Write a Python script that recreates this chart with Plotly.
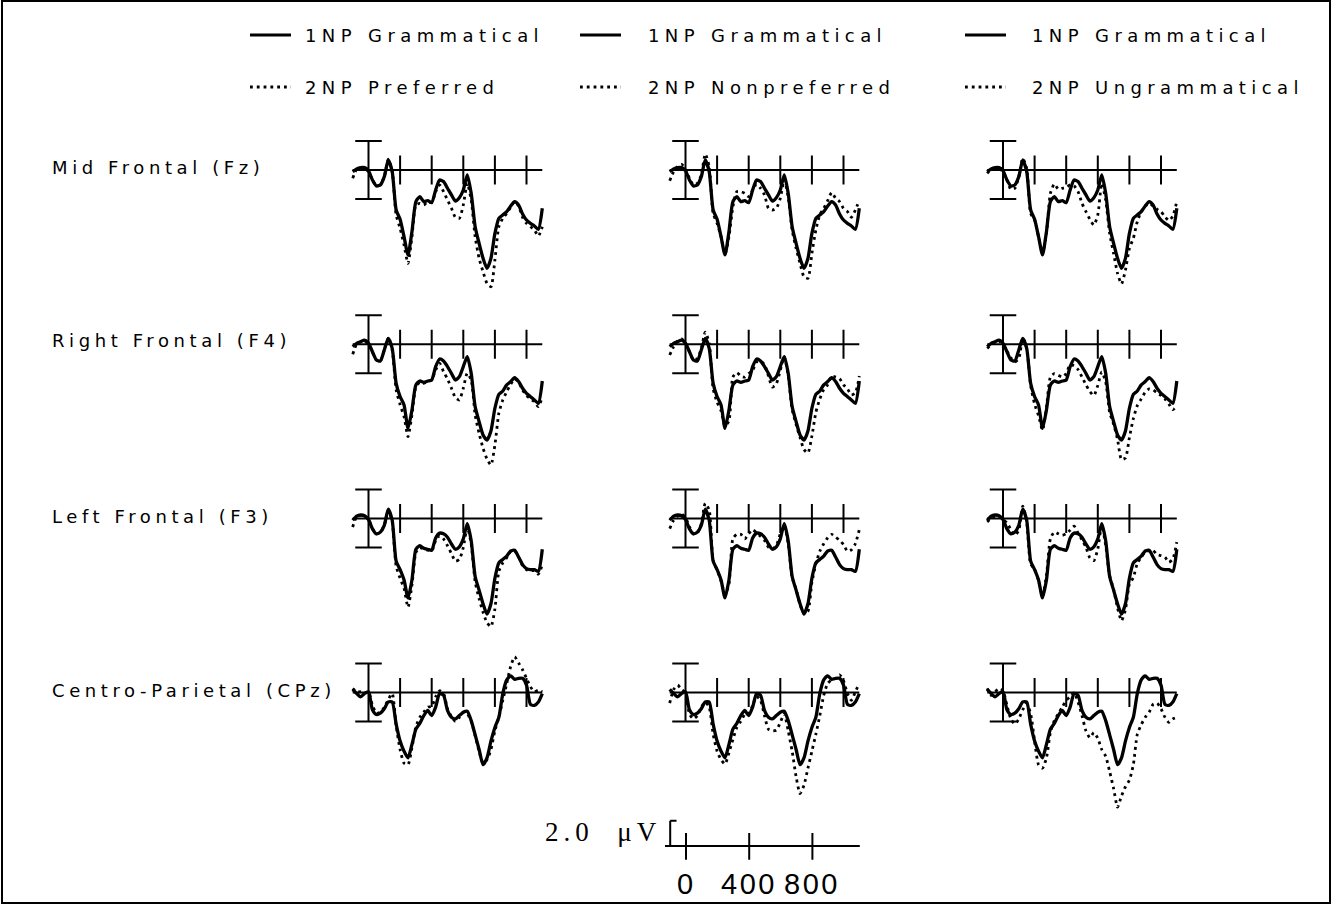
import plotly.graph_objects as go

# ---------------- data (μV, positive plotted downward) ----------------
time_ms = [-100, -75, -50, -25, 0, 25, 50, 75, 100, 125, 150, 175, 200, 225, 250, 275,
           300, 325, 350, 375, 400, 425, 450, 475, 500, 525, 550, 575, 600, 625, 650,
           675, 700, 725, 750, 775, 800, 825, 850, 875, 900, 925, 950, 975, 1000, 1025,
           1050, 1075, 1100]

electrodes = ["Mid Frontal (Fz)", "Right Frontal (F4)", "Left Frontal (F3)", "Centro-Parietal (CPz)"]
conditions_2np = ["2NP Preferred", "2NP Nonpreferred", "2NP Ungrammatical"]
label_1np = "1NP Grammatical"

fz_1np = [0.11, -0.07, -0.16, -0.16, 0.05, 0.69, 1.10, 1.03, 0.46, -0.69, 0.11, 2.76, 3.40, 4.60, 5.86, 4.25, 2.18, 1.84, 2.18, 2.11, 2.25, 1.38, 0.69, 0.80, 1.26, 1.72, 2.14, 1.91, 1.38, 0.34, 1.61, 3.91, 5.06, 6.09, 6.78, 6.09, 4.37, 3.33, 3.10, 2.87, 2.48, 2.18, 2.41, 3.03, 3.45, 3.68, 3.86, 4.09, 2.64]
f4_1np = [0.16, -0.07, -0.18, -0.28, -0.07, 0.51, 1.08, 1.15, 0.39, -0.41, 0.28, 2.69, 3.61, 4.18, 5.79, 4.53, 2.80, 2.53, 2.62, 2.53, 2.46, 1.54, 1.01, 1.15, 1.54, 2.00, 2.46, 2.23, 1.54, 0.85, 2.00, 4.30, 5.33, 6.25, 6.60, 5.98, 4.41, 3.45, 3.22, 2.80, 2.57, 2.30, 2.57, 3.03, 3.38, 3.61, 3.84, 4.07, 2.53]
f3_1np = [0.12, -0.16, -0.24, -0.19, 0.07, 0.71, 1.06, 0.94, 0.47, -0.64, 0.12, 2.94, 3.53, 4.24, 5.48, 4.24, 2.12, 1.88, 2.05, 2.12, 2.19, 1.34, 1.01, 1.06, 1.29, 1.76, 2.12, 1.95, 1.41, 0.35, 1.53, 4.00, 4.94, 5.88, 6.59, 5.88, 4.12, 3.06, 2.82, 2.59, 2.24, 2.19, 2.66, 3.18, 3.46, 3.53, 3.53, 3.65, 2.12]
cpz_1np = [-0.21, 0.07, 0.30, 0.07, -0.05, 1.19, 1.52, 1.43, 1.12, 0.65, 0.65, 2.18, 3.35, 4.05, 4.51, 3.58, 2.53, 2.13, 1.59, 1.24, 1.59, 1.01, 0.07, 0.19, 1.24, 1.71, 1.82, 1.59, 1.36, 1.29, 1.94, 2.92, 3.93, 4.98, 4.51, 3.35, 2.41, 1.71, 0.07, -0.87, -1.15, -0.91, -0.98, -0.98, -0.51, 0.82, 0.89, 0.65, 0.07]

fz_pref = [0.57, -0.05, -0.16, -0.11, 0.11, 0.69, 1.10, 0.99, 0.46, -0.74, 0.11, 3.10, 4.02, 5.17, 6.44, 4.60, 2.41, 2.30, 2.41, 2.18, 2.25, 1.49, 1.03, 1.49, 2.07, 2.64, 3.26, 3.33, 2.41, 0.92, 2.07, 4.60, 6.09, 7.01, 7.82, 8.05, 6.21, 3.91, 3.33, 2.99, 2.57, 2.18, 2.48, 3.26, 3.68, 3.91, 4.14, 4.55, 3.91]
fz_nonpref = [0.74, 0.11, -0.23, -0.39, -0.05, 0.57, 1.03, 0.92, 0.34, -1.10, -0.23, 2.99, 3.68, 4.60, 5.80, 4.60, 2.53, 1.49, 1.49, 1.61, 1.84, 1.38, 0.97, 1.26, 1.72, 2.64, 2.76, 2.64, 1.95, 0.69, 1.84, 4.14, 5.40, 6.44, 7.36, 7.47, 5.75, 4.14, 3.10, 2.64, 2.11, 1.56, 1.95, 2.18, 2.64, 2.87, 3.26, 2.76, 2.07]
fz_ungram = [0.23, -0.05, -0.11, -0.07, 0.11, 0.69, 1.33, 1.26, 0.46, -0.80, -0.11, 2.99, 3.45, 4.60, 5.75, 4.37, 1.61, 0.97, 1.33, 1.26, 1.20, 1.03, 1.10, 1.49, 2.30, 2.87, 3.40, 3.79, 3.10, 0.92, 2.07, 4.37, 5.75, 7.13, 7.86, 6.90, 5.40, 4.71, 3.56, 2.87, 2.48, 2.30, 2.48, 2.71, 2.87, 3.22, 3.49, 3.17, 2.18]

f4_pref = [0.69, 0.00, -0.18, -0.23, 0.00, 0.55, 1.08, 1.15, 0.39, -0.41, 0.39, 3.13, 4.16, 4.99, 6.37, 4.87, 2.92, 2.62, 2.69, 2.53, 2.46, 1.77, 1.31, 1.89, 2.39, 3.03, 3.68, 3.84, 3.03, 2.00, 2.46, 4.87, 6.14, 7.17, 7.91, 8.32, 6.94, 4.76, 3.84, 3.26, 2.76, 2.39, 2.62, 3.15, 3.54, 3.77, 3.95, 4.30, 3.61]
f4_nonpref = [0.74, 0.16, -0.23, -0.37, -0.07, 0.51, 1.09, 0.98, 0.28, -0.84, -0.07, 3.07, 4.00, 4.58, 5.63, 5.28, 2.26, 1.95, 2.19, 2.26, 2.02, 1.79, 1.21, 1.16, 1.40, 2.19, 2.95, 2.72, 1.79, 0.86, 2.16, 4.49, 5.53, 6.44, 7.26, 7.49, 6.33, 4.70, 3.77, 3.12, 2.79, 2.19, 2.26, 2.37, 2.79, 3.07, 3.49, 3.35, 2.19]
f4_ungram = [0.28, 0.05, -0.14, -0.23, 0.16, 0.47, 0.93, 1.21, 0.98, -0.42, 0.28, 2.84, 4.12, 4.93, 5.91, 4.35, 2.26, 2.02, 2.14, 2.26, 2.02, 1.40, 1.49, 1.74, 2.26, 2.79, 3.26, 3.53, 2.84, 1.91, 2.60, 4.70, 5.51, 6.56, 7.95, 7.84, 6.44, 5.12, 4.23, 3.77, 3.30, 3.07, 3.14, 3.35, 3.53, 3.77, 4.12, 4.51, 4.23]

f3_pref = [0.59, -0.12, -0.21, -0.16, 0.07, 0.71, 1.06, 0.94, 0.47, -0.59, 0.24, 3.29, 4.12, 4.82, 6.12, 4.59, 2.35, 2.00, 2.12, 2.19, 2.24, 1.53, 1.18, 1.41, 1.88, 2.42, 2.94, 2.82, 2.00, 0.59, 1.76, 4.35, 5.53, 6.47, 7.18, 7.46, 6.24, 3.65, 3.06, 2.71, 2.28, 2.24, 2.66, 3.24, 3.53, 3.60, 3.60, 3.84, 3.18]
f3_nonpref = [0.70, 0.12, -0.16, -0.30, -0.07, 0.58, 1.05, 1.00, 0.35, -1.05, -0.58, 2.91, 3.56, 4.30, 5.23, 4.53, 1.40, 1.09, 1.09, 1.40, 1.05, 0.77, 1.00, 1.23, 1.51, 1.98, 2.09, 1.86, 1.05, 0.47, 1.74, 4.07, 4.88, 5.93, 6.58, 6.40, 4.42, 3.14, 2.26, 1.74, 1.33, 1.09, 1.28, 1.51, 1.79, 2.26, 2.16, 1.74, 0.77]
f3_ungram = [0.23, 0.00, -0.16, -0.12, 0.07, 0.30, 0.77, 1.16, 0.81, -0.86, 0.23, 3.14, 3.49, 4.30, 5.35, 3.95, 1.40, 0.93, 1.05, 1.16, 1.05, 0.81, 0.53, 1.00, 1.47, 1.98, 2.72, 2.91, 2.09, 0.47, 1.86, 3.95, 4.88, 6.16, 7.05, 6.28, 4.53, 4.07, 3.09, 2.67, 2.33, 2.21, 2.21, 2.49, 2.56, 2.67, 3.02, 2.79, 1.63]

cpz_pref = [-0.28, -0.05, -0.05, 0.02, -0.05, 0.89, 1.43, 1.36, 1.01, 0.49, 0.07, 2.29, 3.93, 4.87, 4.98, 3.81, 2.36, 1.71, 1.36, 1.01, 0.96, 0.30, -0.12, 0.07, 1.12, 1.66, 1.99, 1.71, 1.36, 1.47, 1.99, 2.99, 4.05, 4.87, 4.63, 3.93, 2.64, 1.71, 0.54, -0.63, -1.80, -2.46, -2.04, -1.57, -0.98, -0.40, -0.05, -0.16, -0.05]
cpz_nonpref = [0.73, -0.21, -0.51, -0.21, 0.02, 1.47, 1.82, 1.59, 1.01, 0.65, 1.01, 2.88, 4.05, 4.63, 4.94, 4.16, 3.23, 2.41, 1.99, 1.52, 1.47, 0.89, 0.26, 0.54, 1.59, 2.53, 2.64, 2.60, 2.06, 1.47, 2.64, 4.05, 5.80, 6.97, 6.39, 5.22, 4.05, 2.88, 1.59, 0.19, -0.63, -0.87, -0.98, -1.22, -0.82, 0.07, 0.54, -0.05, -0.63]
cpz_ungram = [-0.28, 0.19, -0.05, -0.28, -0.12, 0.89, 1.82, 2.18, 1.82, 1.19, 0.77, 1.47, 3.35, 4.98, 5.22, 4.51, 2.76, 1.94, 1.47, 1.01, 0.54, 0.30, 0.02, 0.65, 1.59, 2.64, 3.11, 2.76, 3.16, 3.93, 4.40, 5.45, 6.62, 7.91, 7.13, 6.50, 6.04, 4.98, 2.88, 2.22, 1.71, 1.36, 0.82, 0.73, 1.12, 1.71, 2.06, 1.82, 1.71]

solid_by_row = [fz_1np, f4_1np, f3_1np, cpz_1np]
dotted_by_row = [[fz_pref, fz_nonpref, fz_ungram],
                 [f4_pref, f4_nonpref, f4_ungram],
                 [f3_pref, f3_nonpref, f3_ungram],
                 [cpz_pref, cpz_nonpref, cpz_ungram]]

panel_ticks_ms = [200, 400, 600, 800, 1000]
scale_ticks_ms = [0, 400, 800]
scale_tick_text = ["0", "400", "800"]
scale_label = "2.0 μV"

# ---------------- layout geometry ----------------
W, H = 1332, 905
PX_MS = 0.158
PX_UV = 14.5
XR = (-160, 1160)
col_zero_px = [368.5, 685.5, 1003.0]
row_axis_px = [170.0, 344.3, 518.5, 692.5]


def xdom(zero_px):
    return [(zero_px + XR[0] * PX_MS) / W, (zero_px + XR[1] * PX_MS) / W]


def ydom(axis_px, top_uv, bot_uv):
    top_px = axis_px + top_uv * PX_UV
    bot_px = axis_px + bot_uv * PX_UV
    return [1 - bot_px / H, 1 - top_px / H]


def ax_ref(n):
    return ("x", "y") if n == 1 else (f"x{n}", f"y{n}")


fig = go.Figure()
layout = {}
shapes = []
annotations = []
LINE_W = 2
black = "black"
DOT = "2.8px,4px"


def text_span(s, spacing):
    return f'<span style="letter-spacing:{spacing}px">{s}</span>'


n = 0
for r in range(4):
    for c in range(3):
        n += 1
        xr, yr = ax_ref(n)
        xa = "xaxis" if n == 1 else f"xaxis{n}"
        ya = "yaxis" if n == 1 else f"yaxis{n}"
        layout[xa] = dict(domain=xdom(col_zero_px[c]), range=list(XR), visible=False,
                          anchor=yr, fixedrange=True)
        layout[ya] = dict(domain=ydom(row_axis_px[r], -4, 10), range=[10, -4], visible=False,
                          anchor=xr, fixedrange=True)
        # panel axes
        shapes.append(dict(type="line", xref=xr, yref=yr, x0=-100, x1=1100, y0=0, y1=0,
                           line=dict(color=black, width=LINE_W)))
        shapes.append(dict(type="line", xref=xr, yref=yr, x0=0, x1=0, y0=-2, y1=2,
                           line=dict(color=black, width=LINE_W)))
        for yv in (-2, 2):
            shapes.append(dict(type="line", xref=xr, yref=yr, x0=-84, x1=84, y0=yv, y1=yv,
                               line=dict(color=black, width=LINE_W)))
        for t in panel_ticks_ms:
            shapes.append(dict(type="line", xref=xr, yref=yr, x0=t, x1=t, y0=-1, y1=1,
                               line=dict(color=black, width=LINE_W)))
        fig.add_trace(go.Scatter(x=time_ms, y=dotted_by_row[r][c], xaxis=xr, yaxis=yr,
                                 mode="lines", line=dict(color=black, width=2.8, dash=DOT,
                                                          shape="spline", smoothing=0.6),
                                 name=conditions_2np[c], showlegend=False, hoverinfo="skip"))
        fig.add_trace(go.Scatter(x=time_ms, y=solid_by_row[r], xaxis=xr, yaxis=yr,
                                 mode="lines", line=dict(color=black, width=3.3,
                                                          shape="spline", smoothing=0.6),
                                 name=label_1np, showlegend=False, hoverinfo="skip"))

# scale bar axis
n = 13
xr, yr = ax_ref(n)
scale_zero_px, scale_axis_px = 686.0, 846.0
layout["xaxis13"] = dict(domain=xdom(scale_zero_px), range=list(XR), visible=False, anchor=yr,
                         fixedrange=True)
layout["yaxis13"] = dict(domain=ydom(scale_axis_px, -4, 2), range=[2, -4], visible=False,
                         anchor=xr, fixedrange=True)
fig.add_trace(go.Scatter(x=[None], y=[None], xaxis=xr, yaxis=yr, showlegend=False,
                         hoverinfo="skip"))
shapes.append(dict(type="line", xref=xr, yref=yr, x0=-133, x1=1100, y0=0, y1=0,
                   line=dict(color=black, width=LINE_W)))
shapes.append(dict(type="line", xref=xr, yref=yr, x0=-100, x1=-100, y0=0, y1=-1.75,
                   line=dict(color=black, width=LINE_W)))
shapes.append(dict(type="line", xref=xr, yref=yr, x0=-100, x1=-60, y0=-1.75, y1=-1.75,
                   line=dict(color=black, width=LINE_W)))
for t in scale_ticks_ms:
    shapes.append(dict(type="line", xref=xr, yref=yr, x0=t, x1=t, y0=-0.9, y1=0.95,
                       line=dict(color=black, width=LINE_W)))
for t, s in zip(scale_ticks_ms, scale_tick_text):
    annotations.append(dict(x=t, xref=xr, y=1 - 884 / H, yref="paper", text=text_span(s, 2.5),
                            showarrow=False, xanchor="center", yanchor="middle",
                            font=dict(family="Liberation Sans", size=29, color=black)))
annotations.append(dict(x=663 / W, xref="paper", y=1 - 832 / H, yref="paper",
                        text=text_span(scale_label.replace(" ", "\u00a0\u00a0"), 5),
                        showarrow=False, xanchor="right", yanchor="middle",
                        font=dict(family="Liberation Serif", size=27, color=black)))

# row labels
label_y = [167, 341, 516, 690]
for lab, yy in zip(electrodes, label_y):
    annotations.append(dict(x=50 / W, xref="paper", y=1 - yy / H, yref="paper",
                            text=text_span(lab, 4.6), showarrow=False, xanchor="left",
                            yanchor="middle", font=dict(family="DejaVu Sans", size=18,
                                                        color=black)))

# legend (drawn manually)
leg_line_x = [(250, 291), (580, 621), (965, 1006)]
leg_text_x = [303, 646, 1030]
leg_y = [35, 87]
for i in range(3):
    x0, x1 = leg_line_x[i]
    shapes.append(dict(type="line", xref="paper", yref="paper", x0=x0 / W, x1=x1 / W,
                       y0=1 - leg_y[0] / H, y1=1 - leg_y[0] / H,
                       line=dict(color=black, width=3)))
    shapes.append(dict(type="line", xref="paper", yref="paper", x0=x0 / W, x1=x1 / W,
                       y0=1 - leg_y[1] / H, y1=1 - leg_y[1] / H,
                       line=dict(color=black, width=2.8, dash=DOT)))
    for txt, yy in ((label_1np, leg_y[0]), (conditions_2np[i], leg_y[1])):
        annotations.append(dict(x=leg_text_x[i] / W, xref="paper", y=1 - yy / H, yref="paper",
                                text=text_span(txt, 5.4), showarrow=False, xanchor="left",
                                yanchor="middle", font=dict(family="DejaVu Sans", size=18,
                                                            color=black)))

# outer frame
shapes.append(dict(type="rect", xref="paper", yref="paper", x0=2 / W, x1=1330 / W,
                   y0=1 - 903 / H, y1=1 - 1 / H, line=dict(color=black, width=2)))

fig.update_layout(width=W, height=H, margin=dict(l=0, r=0, t=0, b=0),
                  paper_bgcolor="white", plot_bgcolor="rgba(0,0,0,0)",
                  shapes=shapes, annotations=annotations, showlegend=False, **layout)

fig.write_html("out.html", config={"displayModeBar": False},
               post_script="document.body.style.margin='0px';document.body.style.overflow='hidden';")
